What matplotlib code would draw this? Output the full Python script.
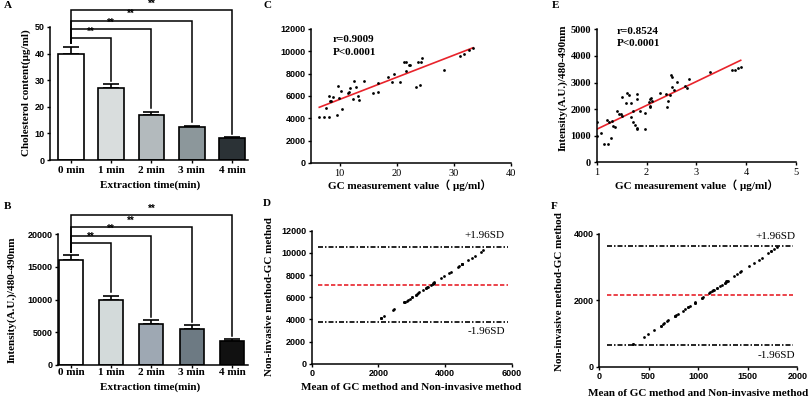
import numpy as np
import matplotlib
matplotlib.use("Agg")
import matplotlib.pyplot as plt

W, H = 811, 403

# panel A and B: bar charts
times = ["0 min", "1 min", "2 min", "3 min", "4 min"]
chol_mean = [39.8, 27.1, 17.0, 12.3, 8.1]
chol_err = [2.8, 1.4, 1.2, 0.6, 0.5]
chol_sig = [45.7, 49.1, 52.4, 56.4]
int_mean = [16000, 10000, 6200, 5500, 3600]
int_err = [750, 600, 700, 600, 380]
int_sig = [18550, 19750, 21050, 22900]
colors_a = ["#ffffff", "#d9dddd", "#b3babd", "#8c979b", "#2b3236"]
colors_b = ["#ffffff", "#d3dada", "#9ea8b3", "#6d7a83", "#111111"]

# panel C: GC value vs non-invasive cholesterol reading
gc_c = [6.45, 7.2, 8.2, 7.6, 8.07, 8.25, 8.55, 8.77, 9.6, 9.65, 9.95, 10.2, 10.5,
        11.5, 11.6, 11.8, 12.3, 12.45, 12.9, 13.15, 13.45, 14.3, 15.85, 16.65,
        16.65, 18.4, 19.1, 19.6, 20.5, 21.2, 21.55, 21.7, 22.1, 22.4, 23.4, 24.0,
        23.7, 24.3, 24.5, 28.2, 31.0, 31.7, 32.6, 33.35]
ni_c = [4150, 4150, 4150, 4950, 6000, 5550, 5550, 5880, 4300, 6900, 5790, 6450,
        4860, 6240, 6360, 6690, 5700, 7340, 6830, 6000, 5610, 7310, 6240, 6330,
        7160, 7730, 7230, 7940, 7280, 9020, 9020, 8210, 8780, 8800, 6810, 6960,
        9020, 9020, 9380, 8300, 9580, 9760, 10120, 10270]

# panel E: GC value vs fluorescence intensity
gc_e = [1.01, 1.0, 1.08, 1.15, 1.23, 1.2, 1.25, 1.29, 1.30, 1.32, 1.37, 1.40, 1.45,
        1.48, 1.50, 1.50, 1.59, 1.60, 1.65, 1.68, 1.69, 1.73, 1.72, 1.77, 1.80,
        1.81, 1.80, 1.81, 1.87, 1.96, 1.97, 2.04, 2.06, 2.07, 2.09, 2.07, 2.10,
        2.28, 2.39, 2.42, 2.44, 2.47, 2.49, 2.51, 2.51, 2.55, 2.61, 2.77, 2.81,
        2.85, 3.27, 3.72, 3.77, 3.84, 3.89]
ni_e = [1530, 990, 1115, 675, 675, 1590, 1530, 900, 1550, 1365, 1315, 1930, 1800,
        1800, 1740, 2470, 2220, 2590, 2530, 2240, 1690, 1930, 1530, 1400, 1280,
        1240, 2570, 2370, 1940, 1840, 1240, 2280, 2070, 2380, 2430, 2100, 2320,
        2590, 2560, 2070, 2300, 2530, 3280, 3220, 2840, 2720, 3030, 2870, 2780,
        3120, 3410, 3470, 3470, 3530, 3590]

limits_d = [10500, 7130, 3790]
limits_f = [3629, 2145, 652]

# Bland-Altman points come from the same readings
gc_c_arr, ni_c_arr = np.array(gc_c), np.array(ni_c)
gc_e_arr, ni_e_arr = np.array(gc_e), np.array(ni_e)
ba_mean_d = (gc_c_arr + ni_c_arr) / 2
ba_diff_d = ni_c_arr - gc_c_arr
ba_mean_f = (gc_e_arr + ni_e_arr) / 2
ba_diff_f = ni_e_arr - gc_e_arr

SERIF = "Liberation Serif"
SANS = "Liberation Sans"
RED = "#e8232b"

fig = plt.figure(figsize=(W / 100, H / 100), dpi=100)


def add_ax(left, top, right, bottom):
    return fig.add_axes([left / W, 1 - bottom / H, (right - left) / W, (bottom - top) / H])


def ftext(x, y, s, **kw):
    fig.text(x / W, 1 - y / H, s, **kw)


def base_style(ax):
    for side in ["top", "right"]:
        ax.spines[side].set_visible(False)
    for side in ["left", "bottom"]:
        ax.spines[side].set_linewidth(1.1)
    ax.tick_params(direction="out", length=2.5, width=1.0, pad=1.5)


def bar_panel(ax, means, errs, sig, colors, width, ymax, yticks):
    x = np.arange(len(means))
    ax.bar(x, means, width=width, color=colors, edgecolor="black", linewidth=1.2, zorder=2)
    ax.errorbar(x, means, yerr=[np.zeros(len(errs)), errs], fmt="none", ecolor="black",
                elinewidth=1.2, capsize=5.5, capthick=1.2, zorder=1)
    gap = ymax * 0.025
    for i, level in enumerate(sig, 1):
        ax.plot([0, 0, i, i], [means[0] + errs[0] + gap, level, level, means[i] + errs[i] + gap],
                color="black", lw=1.1, clip_on=False, solid_joinstyle="miter")
        ax.text(i / 2, level + ymax * 0.01, "**", ha="center", va="bottom", fontsize=7,
                fontweight="bold", family=SANS, clip_on=False)
    ax.set_ylim(0, ymax)
    ax.set_xticks(x, times, fontsize=8, fontweight="bold", family=SERIF)
    ax.set_yticks(yticks, [str(v) for v in yticks], fontsize=6.5, fontweight="bold", family=SANS)
    base_style(ax)


# A
axA = add_ax(50, 27, 248, 160)
bar_panel(axA, chol_mean, chol_err, chol_sig, colors_a, 0.64, 50, [0, 10, 20, 30, 40, 50])
axA.set_xlim(-0.52, 4.4)

# B
axB = add_ax(58, 234, 248, 365)
bar_panel(axB, int_mean, int_err, int_sig, colors_b, 0.6, 20000, [0, 5000, 10000, 15000, 20000])
axB.set_xlim(-0.32, 4.4)
axB.tick_params(axis="x", length=2, pad=0.5)


def scatter_panel(ax, xs, ys):
    ax.scatter(xs, ys, s=4, color="black", zorder=3, linewidths=0)
    k, b = np.polyfit(xs, ys, 1)
    xx = np.array([min(xs), max(xs)])
    ax.plot(xx, k * xx + b, color=RED, lw=1.2, zorder=2)
    base_style(ax)


# C
axC = add_ax(311, 29, 511, 163)
scatter_panel(axC, gc_c, ni_c)
axC.set_xlim(5, 40)
axC.set_ylim(0, 12000)
axC.set_xticks([10, 20, 30, 40], ["10", "20", "30", "40"], fontsize=7.5, family=SERIF)
yt = list(range(0, 12001, 2000))
axC.set_yticks(yt, [str(v) for v in yt], fontsize=6.5, fontweight="bold", family=SANS)

# E
axE = add_ax(596.7, 29.3, 796, 162.3)
scatter_panel(axE, gc_e, ni_e)
axE.set_xlim(1, 5)
axE.set_ylim(0, 5000)
axE.set_xticks([1, 2, 3, 4, 5], ["1", "2", "3", "4", "5"], fontsize=7.5, family=SERIF)
yt = list(range(0, 5001, 1000))
axE.set_yticks(yt, [str(v) for v in yt], fontsize=7.5, fontweight="bold", family=SERIF)


def ba_panel(ax, mx, dy, limits, xr):
    ax.scatter(mx, dy, s=4, color="black", zorder=3, linewidths=0)
    ax.hlines([limits[0], limits[2]], xr[0], xr[1], colors="black", lw=1.2,
              linestyles=(0, (3.0, 1.2, 0.9, 1.2)), zorder=2)
    ax.hlines(limits[1], xr[0], xr[1], colors=RED, lw=1.2, linestyles=(0, (2.6, 1.3)), zorder=2)
    base_style(ax)


# D
axD = add_ax(311.7, 230.7, 511.7, 363.7)
ba_panel(axD, ba_mean_d, ba_diff_d, limits_d, (200, 5900))
axD.set_xlim(0, 6000)
axD.set_ylim(0, 12000)
xt = [0, 2000, 4000, 6000]
axD.set_xticks(xt, [str(v) for v in xt], fontsize=6.5, fontweight="bold", family=SANS)
yt = list(range(0, 12001, 2000))
axD.set_yticks(yt, [str(v) for v in yt], fontsize=6.5, fontweight="bold", family=SANS)
axD.text(5800, 11550, "+1.96SD", ha="right", va="center", fontsize=8, family=SERIF)
axD.text(5800, 2950, "-1.96SD", ha="right", va="center", fontsize=8, family=SERIF)

# F
axF = add_ax(599, 233.7, 797.3, 366.7)
ba_panel(axF, ba_mean_f, ba_diff_f, limits_f, (80, 1960))
axF.set_xlim(0, 2000)
axF.set_ylim(0, 4000)
xt = [0, 500, 1000, 1500, 2000]
axF.set_xticks(xt, [str(v) for v in xt], fontsize=6.5, fontweight="bold", family=SANS)
yt = [0, 2000, 4000]
axF.set_yticks(yt, [str(v) for v in yt], fontsize=6.5, fontweight="bold", family=SANS)
axF.text(1984, 3930, "+1.96SD", ha="right", va="center", fontsize=8, family=SERIF)
axF.text(1984, 331, "-1.96SD", ha="right", va="center", fontsize=8, family=SERIF)

# statistics text
bold_serif = dict(fontsize=8, fontweight="bold", family=SERIF, va="center", ha="left")
ftext(332.7, 40, "r=0.9009", **bold_serif)
ftext(332.7, 52.7, "P<0.0001", **bold_serif)
ftext(616.7, 31.7, "r=0.8524", **bold_serif)
ftext(616.7, 43.3, "P<0.0001", **bold_serif)

# axis labels
lab = dict(fontsize=8, fontweight="bold", family=[SERIF, "Noto Sans CJK SC"], ha="center", va="center")
ftext(26, 93, "Cholesterol content(μg/ml)", rotation=90, **lab)
ftext(150, 185, "Extraction time(min)", **lab)
ftext(12, 300, "Intensity(A.U.)/480-490nm", rotation=90, **lab)
ftext(150, 387, "Extraction time(min)", **lab)
ftext(410, 185, "GC measurement value（ μg/ml）", **lab)
ftext(270, 297, "Non-invasive method-GC method", rotation=90, **lab)
ftext(411, 388, "Mean of GC method and Non-invasive method", **lab)
ftext(563, 88, "Intensity(A.U.)/480-490nm", rotation=90, **lab)
ftext(697, 185, "GC measurement value（ μg/ml）", **lab)
ftext(560, 292, "Non-invasive method-GC method", rotation=90, **lab)
ftext(698, 393, "Mean of GC method and Non-invasive method", **lab)

# panel letters
letter = dict(fontsize=8, fontweight="bold", family=SERIF, ha="center", va="center")
for s, (x, y) in zip("ABCDEF", [(7.5, 6), (8, 206), (268, 6), (266.7, 204), (555.5, 6), (554, 206)]):
    ftext(x, y, s, **letter)

fig.savefig("out.png", dpi=100)
